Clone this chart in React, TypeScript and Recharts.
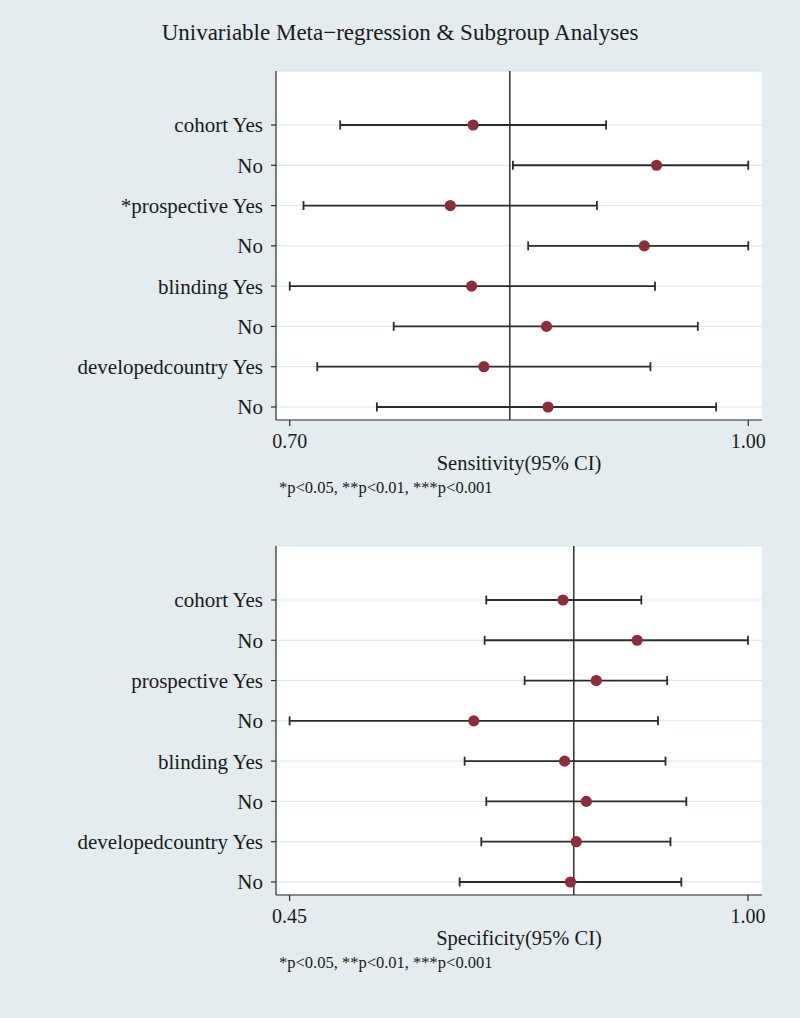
import React from 'react'
import { ScatterChart, Scatter, XAxis, YAxis, CartesianGrid, ReferenceLine, ErrorBar } from 'recharts'

// row labels, top to bottom
const sensLabels = ['cohort Yes', 'No', '*prospective Yes', 'No', 'blinding Yes', 'No', 'developedcountry Yes', 'No']
const specLabels = ['cohort Yes', 'No', 'prospective Yes', 'No', 'blinding Yes', 'No', 'developedcountry Yes', 'No']

// sensitivity estimates and 95% CI
const sensEst = [0.820, 0.940, 0.805, 0.932, 0.819, 0.868, 0.827, 0.869]
const sensLow = [0.733, 0.846, 0.709, 0.856, 0.700, 0.768, 0.718, 0.757]
const sensHigh = [0.907, 1.000, 0.901, 1.000, 0.939, 0.967, 0.936, 0.979]
const sensPooled = 0.844
const sensTicks = [0.7, 1.0]

// specificity estimates and 95% CI
const specEst = [0.778, 0.867, 0.818, 0.671, 0.780, 0.806, 0.794, 0.787]
const specLow = [0.686, 0.684, 0.732, 0.450, 0.660, 0.686, 0.680, 0.654]
const specHigh = [0.872, 1.000, 0.903, 0.892, 0.901, 0.926, 0.907, 0.920]
const specPooled = 0.791
const specTicks = [0.45, 1.0]

const FONT = "'Liberation Serif', 'Times New Roman', serif"
const BG = '#e4ecf0'
const DOT = '#8c2d37'
const INK = '#2b2b2b'

interface PanelProps {
  labels: string[]
  est: number[]
  low: number[]
  high: number[]
  pooled: number
  ticks: number[]
  domain: [number, number]
  top: number
}

const Dot = (props: any) => <circle cx={props.cx} cy={props.cy} r={5.6} fill={DOT} />

const Panel: React.FC<PanelProps> = ({ labels, est, low, high, pooled, ticks, domain, top }) => {
  const n = labels.length
  const data = est.map((v, i) => ({
    row: n - i,
    value: v,
    ci: [v - low[i], high[i] - v],
  }))
  const rowTicks = labels.map((_, i) => n - i)

  return (
    <div style={{ position: 'absolute', left: 0, top, width: 800, height: 475 }}>
      <ScatterChart width={800} height={475} margin={{ top: 71, right: 38, bottom: 0, left: 0 }}>
        <CartesianGrid vertical={false} fill="#ffffff" stroke="#d8e6ee" strokeWidth={1} />
        <XAxis
          type="number"
          dataKey="value"
          domain={domain}
          ticks={ticks}
          allowDataOverflow
          tickFormatter={(v: number) => v.toFixed(2)}
          height={55}
          tickSize={6}
          tickMargin={8}
          stroke={INK}
          strokeWidth={1.2}
          tick={{ fill: '#1a1a1a', fontSize: 20, fontFamily: FONT }}
        />
        <YAxis
          type="number"
          dataKey="row"
          domain={[0.677, 9.34]}
          ticks={rowTicks}
          allowDataOverflow
          tickFormatter={(v: number) => labels[n - v]}
          width={276}
          tickSize={5}
          tickMargin={8}
          stroke={INK}
          strokeWidth={1.2}
          tick={{ fill: '#1a1a1a', fontSize: 21, fontFamily: FONT }}
        />
        <ReferenceLine x={pooled} stroke="#262020" strokeWidth={1.4} />
        <Scatter data={data} shape={Dot} isAnimationActive={false}>
          <ErrorBar dataKey="ci" direction="x" width={4.5} stroke={INK} strokeWidth={1.8} />
        </Scatter>
      </ScatterChart>
    </div>
  )
}

const App = () => {
  return (
    <div style={{ position: 'absolute', left: 0, top: 0, width: 800, height: 1018, background: BG, fontFamily: FONT }}>
      <svg width={800} height={1018} style={{ position: 'absolute', left: 0, top: 0 }}>
        <text x={400} y={40} textAnchor="middle" fontSize={23} fill="#1a1a1a" fontFamily={FONT}>
          Univariable Meta−regression &amp; Subgroup Analyses
        </text>
        <text x={519} y={470} textAnchor="middle" fontSize={20.5} fill="#1a1a1a" fontFamily={FONT}>
          Sensitivity(95% CI)
        </text>
        <text x={279} y={493} fontSize={16.5} fill="#1a1a1a" fontFamily={FONT}>
          *p&lt;0.05, **p&lt;0.01, ***p&lt;0.001
        </text>
        <text x={519} y={945} textAnchor="middle" fontSize={20.5} fill="#1a1a1a" fontFamily={FONT}>
          Specificity(95% CI)
        </text>
        <text x={279} y={968} fontSize={16.5} fill="#1a1a1a" fontFamily={FONT}>
          *p&lt;0.05, **p&lt;0.01, ***p&lt;0.001
        </text>
      </svg>
      <Panel
        labels={sensLabels}
        est={sensEst}
        low={sensLow}
        high={sensHigh}
        pooled={sensPooled}
        ticks={sensTicks}
        domain={[0.691, 1.009]}
        top={0}
      />
      <Panel
        labels={specLabels}
        est={specEst}
        low={specLow}
        high={specHigh}
        pooled={specPooled}
        ticks={specTicks}
        domain={[0.4337, 1.0168]}
        top={475}
      />
    </div>
  )
}

export default App
